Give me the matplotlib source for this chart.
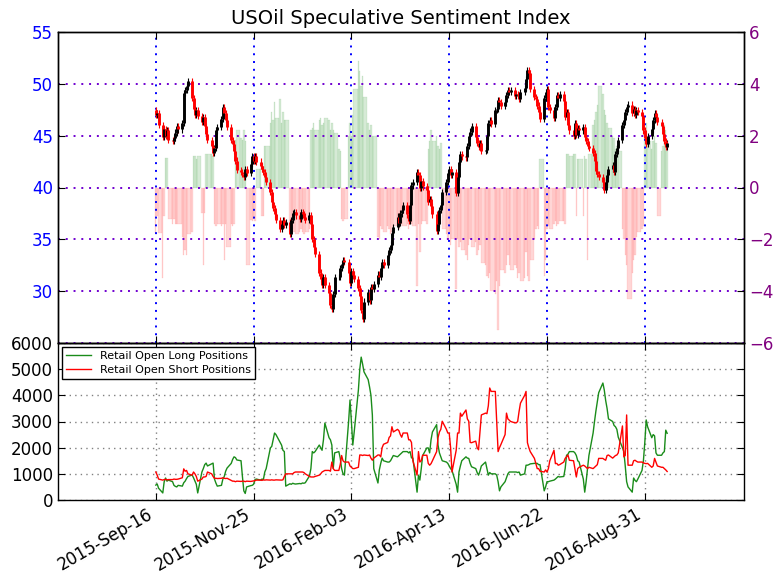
import numpy as np
import pandas as pd
import matplotlib
matplotlib.use('Agg')
import matplotlib.pyplot as plt
import matplotlib.dates as mdates

title = "USOil Speculative Sentiment Index"
start_date = "2015-09-16"

close = [
    47.0, 47.2, 46.0,
    44.9, 45.6, 45.0, 45.5, 44.6,
    44.5, 44.8, 45.3, 45.9, 45.6,
    46.2, 49.1, 49.4, 49.8, 50.3,
    48.6, 47.6, 47.0, 47.5, 46.9,
    46.3, 46.8, 45.9, 45.2, 44.6,
    44.0, 43.3, 43.8, 45.5, 45.8,
    46.6, 47.8, 47.2, 46.5, 45.8,
    44.6, 44.2, 43.5, 42.6, 41.7,
    41.5, 41.3, 41.0, 41.8, 41.4,
    42.3, 43.0, 42.6, 43.0, 42.5,
    42.1, 41.8, 41.5, 41.0, 40.5,
    39.6, 38.6, 38.0, 37.4, 36.9,
    36.0, 36.5, 36.9, 36.4, 36.7,
    35.5, 36.9, 37.5, 37.6, 37.3,
    37.0, 37.6, 37.4, 37.2, 36.9,
    37.3, 36.5, 35.0, 34.3, 33.6,
    31.8, 31.2, 30.6, 31.4, 30.6,
    29.8, 28.7, 28.3, 29.7, 31.4,
    31.4, 32.2, 32.6, 33.0, 32.8,
    31.8, 30.8, 31.9, 31.6, 31.2,
    30.3, 29.5, 28.2, 27.3, 29.0,
    29.9, 29.1, 30.4, 30.2, 30.7,
    31.6, 31.4, 32.2, 32.8, 32.5,
    33.5, 34.0, 34.5, 35.6, 36.2,
    37.2, 36.6, 37.5, 37.8, 38.3,
    37.4, 36.8, 38.3, 40.2, 40.5,
    41.5, 41.2, 40.0, 40.6, 40.1,
    39.8, 38.6, 38.9, 38.2, 37.4,
    35.8, 36.5, 37.8, 38.3, 39.6,
    40.5, 41.4, 41.8, 41.2, 41.5,
    39.5, 41.0, 42.5, 43.2, 43.0,
    42.9, 44.0, 45.0, 45.4, 45.9,
    44.9, 44.3, 43.9, 44.3, 43.5,
    43.6, 45.0, 46.2, 46.5, 46.1,
    47.5, 47.6, 48.4, 48.2, 47.9,
    48.2, 48.9, 49.4, 49.2, 49.4,
    48.8, 49.0, 48.9, 48.5, 49.2,
    49.6, 50.5, 51.3, 51.0, 49.5,
    48.7, 48.5, 47.9, 47.3, 46.6,
    48.6, 49.2, 49.5, 47.8, 47.5,
    46.7, 47.8, 48.9, 48.6, 49.0,
    48.3, 46.8, 47.3, 46.0, 45.5,
    45.0, 46.2, 45.1, 45.7, 45.5,
    45.8, 44.9, 44.5, 44.0, 43.8,
    43.3, 42.6, 41.6, 41.3, 41.0,
    40.5, 39.8, 40.5, 41.2, 41.8,
    42.2, 41.5, 43.2, 43.8, 44.6,
    46.0, 46.5, 47.3, 47.8, 48.0,
    47.2, 47.6, 47.0, 47.5, 47.3,
    46.9, 45.5, 44.8, 44.2, 45.0,
    45.6, 46.5, 47.2, 46.8, 46.3,
    45.9, 45.2, 44.5, 43.9, 44.3,
]
first_open = 47.5

sentiment = [
    -1.75, -1.1, -1.75,
    -3.5, -1.1, 1.15, 1.15, -1.2,
    -1.4, -1.2, -1.4, -1.4, -1.4,
    -1.9, -2.6, -2.4, -2.6, -1.8,
    -1.7, 1.2, 1.2, 1.1, 1.2,
    -1.0, -3.0, -1.0, 1.3, 1.3,
    1.3, 1.2, -1.4, -1.5, -1.4,
    -1.5, -1.4, -2.8, -1.4, -2.3,
    -1.4, -1.5, -1.4, 1.85, 2.2,
    1.9, 1.85, 2.2, 1.8, -3.0,
    -1.25, -1.3, -1.2, -1.3, 0.7,
    0.7, -1.1, -1.1, 1.6, 1.6,
    2.5, 2.9, 2.6, 3.3, 2.7,
    3.4, 2.5, 2.9, 2.6, 2.6,
    -1.7, -1.7, -1.6, -1.7, -1.8,
    -1.7, -1.6, -1.7, -1.8, -1.7,
    -1.6, 2.2, 2.3, 2.5, 2.2,
    2.6, 2.7, 2.4, 2.5, 2.7,
    2.6, 2.2, 2.5, 2.2, 2.1,
    1.5, 1.4, -1.2, -1.3, -1.2,
    2.0, 2.5, 2.0, 2.8, 3.8,
    4.9, 4.5, 3.9, 4.3, 3.5,
    2.5, 2.2, 2.4, 2.0, 2.0,
    -1.9, -2.0, -1.5, -1.6, -1.7,
    -1.5, -1.6, -1.8, -1.7, -1.5,
    -1.4, -1.6, -1.5, -1.4, -1.5,
    -1.4, -1.6, -1.3, -1.4, -1.5,
    -3.8, -1.4, -2.5, -1.4, -1.3,
    -1.4, 1.5, 1.8, 2.2, 1.8,
    2.0, 1.6, 1.5, 1.7, -1.6,
    -1.8, -2.0, -1.7, -2.2, -2.0,
    -3.9, -2.0, -2.3, -2.1, -2.4,
    -2.6, -2.8, -2.2, -2.0, -2.3,
    -2.1, -2.6, -2.4, -2.2, -2.9,
    -3.0, -3.4, -3.5, -3.3, -4.0,
    -4.1, -3.6, -5.5, -3.8, -3.2,
    -3.3, -3.0, -2.6, -3.0, -3.2,
    -3.0, -3.1, -3.5, -3.3, -3.6,
    -3.5, -2.5, -3.4, -3.6, -2.8,
    -2.0, -1.6, -1.5, -1.6, 1.1,
    -3.4, -2.8, -1.6, -1.5, -1.6,
    -1.4, -1.3, -1.5, -1.4, -1.3,
    -1.3, -1.4, 1.3, 1.3, 1.2,
    1.3, 1.3, -1.1, 1.1, 1.1,
    -1.1, 1.2, 1.1, -2.8, 1.3,
    2.4, 2.6, 2.9, 3.2, 3.9,
    3.6, 3.0, 2.8, 2.5, 2.3,
    2.0, 1.9, 1.5, 1.6, 1.4,
    -1.6, -2.0, -2.6, -3.0, -4.3,
    -3.3, -2.8, -2.6, -1.9, -1.7,
    -1.6, -1.5, 2.2, 2.5, 1.8,
    1.5, 1.8, 2.0, 1.7, -1.1,
    1.4, 1.6, 2.4, 2.2, 1.4,
]

long_pos = [
    570, 610, 450,
    270, 700, 840, 720, 760,
    700, 560, 520, 500, 560,
    530, 660, 720, 820, 900,
    955, 850, 720, 600, 270,
    1070, 1200, 1350, 1410, 1300,
    1380, 1410, 800, 650, 530,
    560, 800, 900, 1100, 1220,
    1400, 1550, 1650, 1620, 1530,
    1500, 900, 350, 250, 500,
    550, 560, 600, 780, 800,
    760, 800, 780, 1070, 1200,
    1990, 2050, 2300, 2560, 2500,
    2200, 2100, 1900, 1850, 530,
    620, 600, 640, 620, 610,
    630, 620, 650, 640, 660,
    920, 1200, 1850, 1800, 1850,
    2100, 2000, 1900, 2300, 2940,
    2380, 2300, 2100, 1200, 1800,
    1850, 1600, 1200, 1000, 950,
    3000, 3820, 3000, 2100, 2600,
    4200, 5000, 5460, 5200, 4900,
    4600, 4320, 4000, 3250, 1200,
    650, 1150, 1400, 1600, 1500,
    1450, 1450, 1500, 1600, 1700,
    1650, 1700, 1750, 1800, 1850,
    1850, 1800, 1850, 1610, 1600,
    300, 950, 760, 1200, 1700,
    1990, 1990, 1800, 2300, 2600,
    2880, 2100, 1800, 1650, 1500,
    1450, 1400, 1300, 1200, 1130,
    600, 300, 1070, 1300, 1500,
    1650, 1600, 1590, 1400, 1270,
    1200, 1050, 950, 1100, 1300,
    1450, 1200, 950, 1050, 1000,
    1000, 950, 700, 350, 500,
    700, 850, 1000, 1070, 1070,
    1070, 1070, 1050, 1070, 950,
    1000, 1330, 1330, 1350, 1380,
    1400, 1400, 1400, 1350, 1350,
    350, 500, 700, 700, 720,
    760, 800, 850, 900, 880,
    900, 1200, 1710, 1750, 1850,
    1850, 1800, 1700, 1500, 1450,
    800, 300, 700, 1200, 1700,
    2560, 3000, 3400, 3740, 4100,
    4470, 4200, 3800, 3500, 3100,
    3000, 2850, 2800, 2700, 2400,
    2000, 1850, 1300, 700, 500,
    300, 840, 750, 700, 800,
    1130, 1500, 2200, 3060, 2800,
    2380, 2500, 2450, 1800, 1710,
    1710, 1800, 1850, 2670, 2550,
]

short_pos = [
    1070, 950, 800,
    760, 780, 790, 770, 780,
    780, 800, 790, 790, 800,
    850, 1190, 1100, 1130, 1000,
    950, 1070, 1000, 900, 720,
    800, 880, 880, 900, 1070,
    1000, 900, 830, 830, 820,
    830, 850, 830, 820, 830,
    750, 720, 720, 700, 720,
    710, 720, 720, 700, 720,
    710, 720, 730, 740, 760,
    760, 750, 770, 760, 770,
    760, 770, 760, 760, 770,
    760, 760, 770, 900, 1000,
    1000, 1000, 1000, 1050, 1070,
    1070, 1070, 1070, 1050, 1000,
    900, 880, 880, 880, 900,
    950, 1000, 1070, 1100, 1130,
    1130, 1100, 1450, 1200, 1130,
    1130, 1350, 1700, 1500, 1450,
    1450, 1300, 1250, 1200, 1200,
    1250, 1720, 1720, 1700, 1720,
    1700, 1720, 1600, 1520, 1600,
    1720, 1720, 1650, 2000, 2130,
    2200, 2390, 2450, 2800, 2600,
    2700, 2650, 2500, 2400, 2560,
    2560, 2300, 2300, 2200, 1500,
    950, 1850, 1450, 1500, 1710,
    1710, 1400, 1330, 1390, 1500,
    1850, 2380, 2600, 2700, 3010,
    2700, 2560, 2560, 2000, 1070,
    1900, 2560, 2560, 3320, 3200,
    3440, 3100, 3010, 2200, 2190,
    2250, 2000, 1920, 2600, 3250,
    3320, 3300, 3600, 4280, 4150,
    4150, 3000, 1850, 2000, 2120,
    2500, 3320, 3100, 3050, 3000,
    2950, 2950, 3000, 3380, 3700,
    4000, 4150, 2190, 2000, 1850,
    1590, 1400, 1200, 1200, 1100,
    1070, 1150, 1070, 1200, 1500,
    1900, 1390, 1400, 1330, 1350,
    1450, 1590, 1650, 1720, 1520,
    1500, 1200, 880, 1200, 1250,
    1330, 1300, 1250, 1200, 1250,
    1200, 1250, 1300, 1350, 1590,
    1590, 1550, 1520, 1700, 1720,
    1600, 1650, 1700, 1720, 1800,
    2830, 1650, 1700, 3250, 1330,
    1330, 1500, 1520, 1480, 1450,
    1450, 1420, 1400, 1390, 1400,
    1250, 1300, 1590, 1450, 1300,
    1250, 1250, 1200, 1150, 1090,
]

tick_dates = ["2015-09-16", "2015-11-25", "2016-02-03",
              "2016-04-13", "2016-06-22", "2016-08-31"]
x_limits = ["2015-07-08", "2016-11-10"]

# ---------------------------------------------------------------
n = min(len(close), len(sentiment), len(long_pos), len(short_pos))
dates = pd.bdate_range(start_date, periods=n)
c = np.array(close[:n], dtype=float)
o = np.concatenate([[first_open], c[:-1]])
up = c >= o
wick = 0.3
hi = np.maximum(o, c) + wick
lo = np.minimum(o, c) - wick
s = np.array(sentiment[:n], dtype=float)
L = np.array(long_pos[:n], dtype=float)
S = np.array(short_pos[:n], dtype=float)

plt.rcParams['font.family'] = ['DejaVu Sans']
fig = plt.figure(figsize=(7.83, 5.85), dpi=100)
fig.patch.set_facecolor('white')
left, width = 58 / 783, (744 - 58) / 783
ax1 = fig.add_axes([left, 1 - 343 / 585, width, 311 / 585])
ax2 = fig.add_axes([left, 1 - 500 / 585, width, 157 / 585], sharex=ax1)
axr = ax1.twinx()
ax1.set_zorder(axr.get_zorder() + 1)
ax1.patch.set_visible(False)

# sentiment bars (right axis): each bar spans until the next trading day
gaps = np.diff(dates.values).astype('timedelta64[h]').astype(float) / 24.0
widths = np.concatenate([gaps, [1.0]])
bar_cols = np.where(s > 0, 'green', 'red')
axr.bar(dates - pd.Timedelta(hours=12), s, width=widths, align='edge',
        color=bar_cols, edgecolor=bar_cols, alpha=0.16, linewidth=0.3)
axr.set_ylim(-6, 6)
axr.set_yticks([-6, -4, -2, 0, 2, 4, 6])
axr.tick_params(axis='y', labelcolor='#800080', labelsize=12,
                direction='in', length=5, color='black')
axr.grid(axis='y', color='#7000d0', linestyle=(0, (1, 3)), linewidth=1.4)

# candles
ccol = np.where(up, 'black', 'red')
ax1.vlines(dates, lo, hi, colors=ccol, linewidth=0.8)
ax1.vlines(dates, np.minimum(o, c), np.maximum(o, c), colors=ccol,
           linewidth=2.1)
ax1.set_ylim(25, 55)
ax1.set_yticks([30, 35, 40, 45, 50, 55])
ax1.tick_params(axis='y', labelcolor='blue', labelsize=12, direction='in',
                length=5)
ax1.tick_params(axis='x', direction='in', length=5, top=True,
                labelbottom=False)
ax1.grid(axis='x', color='blue', linestyle=(0, (1, 3)), linewidth=1.4)
ax1.set_title(title, fontsize=14)

# positions
ax2.plot(dates, L, color='#1a8c1a', linewidth=1.0,
         label='Retail Open Long Positions')
ax2.plot(dates, S, color='red', linewidth=1.0,
         label='Retail Open Short Positions')
ax2.set_ylim(0, 6000)
ax2.set_yticks(range(0, 6001, 1000))
ax2.grid(True, color='#808080', linestyle=(0, (1, 3)), linewidth=1.0)
ax2.tick_params(axis='both', direction='in', length=5, top=True,
                right=True, labelsize=12)
leg = ax2.legend(loc='upper left', fontsize=8, fancybox=False,
                 framealpha=1, edgecolor='black', handlelength=2.2,
                 borderaxespad=0.35, borderpad=0.4, labelspacing=0.3)
leg.get_frame().set_linewidth(1.0)

ax2.set_xlim(pd.Timestamp(x_limits[0]), pd.Timestamp(x_limits[1]))
ax2.set_xticks([pd.Timestamp(d) for d in tick_dates])
ax2.xaxis.set_major_formatter(mdates.DateFormatter('%Y-%b-%d'))
for t in ax2.get_xticklabels():
    t.set_rotation(30)
    t.set_ha('right')

for a in (ax1, axr, ax2):
    for sp in a.spines.values():
        sp.set_color('black')
        sp.set_linewidth(1.0)

fig.savefig('out.png', dpi=100, facecolor='white')
